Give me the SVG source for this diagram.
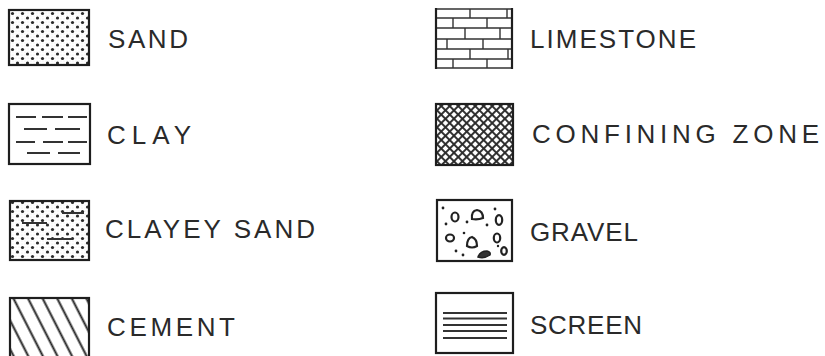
<svg xmlns="http://www.w3.org/2000/svg" width="825" height="356" viewBox="0 0 825 356">
<style>
.box{fill:none;stroke:#1e1e1e;stroke-width:2.2}
.lbl{font-family:"Liberation Sans",Arial,sans-serif;font-size:26px;fill:#2a2a2a}
.dash{stroke:#333;stroke-width:1.8;fill:none}
.peb{fill:none;stroke:#222;stroke-width:2.2}
.dot{fill:#222}
.scr{stroke:#333;stroke-width:2;fill:none}
.brick{stroke:#333;stroke-width:1.4;fill:none}
</style>
<defs>
<pattern id="stip" width="3" height="3" patternUnits="userSpaceOnUse">
<circle cx="1" cy="1" r="0.45" fill="#c8c8c8"/>
</pattern>
<pattern id="sand" width="10" height="9" patternUnits="userSpaceOnUse" x="10" y="11">
<circle cx="2.5" cy="2.5" r="1.6" fill="#2a2a2a"/>
<circle cx="7.5" cy="7" r="1.6" fill="#2a2a2a"/>
</pattern>
<pattern id="cement" width="13" height="13" patternUnits="userSpaceOnUse" patternTransform="rotate(-27)">
<line x1="6.5" y1="-1" x2="6.5" y2="14" stroke="#222" stroke-width="2"/>
</pattern>
<pattern id="hatchA" width="6" height="6" patternUnits="userSpaceOnUse" patternTransform="rotate(45)">
<line x1="3" y1="-1" x2="3" y2="7" stroke="#2a2a2a" stroke-width="1.9"/>
</pattern>
<pattern id="hatchB" width="6" height="6" patternUnits="userSpaceOnUse" patternTransform="rotate(-45)">
<line x1="3" y1="-1" x2="3" y2="7" stroke="#2a2a2a" stroke-width="1.9"/>
</pattern>
</defs>

<g id="sand-item">
<rect x="9" y="10" width="80" height="55" fill="url(#stip)"/>
<rect x="9" y="10" width="80" height="55" fill="url(#sand)"/>
<rect class="box" x="9" y="10" width="80" height="55"/>
<text class="lbl" x="108" y="48" textLength="80" lengthAdjust="spacing">SAND</text>
</g>

<g id="clay-item">
<rect class="box" x="9" y="104" width="81" height="60" fill="#fff"/>
<path class="dash" d="M16 117H36M42 117H63M68 117H87M24 129H47M55 129H80M16 142H35M43 142H63M68 142H87M27 153H50M58 153H80"/>
<text class="lbl" x="107" y="144" textLength="84" lengthAdjust="spacing">CLAY</text>
</g>

<g id="clayey-sand-item">
<rect x="10" y="201" width="79" height="59" fill="url(#stip)"/>
<rect x="10" y="201" width="79" height="59" fill="url(#sand)"/>
<path class="dash" d="M62 213H84M22 223H47M47 239H72"/>
<rect class="box" x="10" y="201" width="79" height="59"/>
<text class="lbl" x="105" y="238" textLength="210" lengthAdjust="spacing">CLAYEY SAND</text>
</g>

<g id="cement-item">
<rect x="10" y="298" width="79" height="60" fill="url(#cement)"/>
<rect class="box" x="10" y="298" width="79" height="60"/>
<text class="lbl" x="107" y="336" textLength="128" lengthAdjust="spacing">CEMENT</text>
</g>

<g id="limestone-item">
<path class="brick" d="M436 9H512M436 18H512M436 28H512M436 39H512M436 49H512M436 59H512M436 68H512"/>
<path class="brick" d="M470 9V18M507 9V18M453 18V28M487 18V28M465 28V39M500 28V39M447 39V49M483 39V49M470 49V59M508 49V59M453 59V68M487 59V68"/>
<path class="box" d="M436 8V69M512 8V69"/>
<text class="lbl" x="530" y="48" textLength="166" lengthAdjust="spacing">LIMESTONE</text>
</g>

<g id="confining-zone-item">
<rect x="436" y="104" width="77" height="61" fill="url(#hatchA)"/>
<rect x="436" y="104" width="77" height="61" fill="url(#hatchB)"/>
<rect class="box" x="436" y="104" width="77" height="61"/>
<text class="lbl" x="532" y="143" textLength="287" lengthAdjust="spacing">CONFINING ZONE</text>
</g>

<g id="gravel-item">
<rect class="box" x="437" y="200" width="75" height="61" fill="#fff"/>
<ellipse class="peb" cx="455" cy="217" rx="3.5" ry="4.5"/>
<path class="peb" d="M472 219 Q471 211 477 210 Q483 211 483 218 Q478 220 472 219Z"/>
<ellipse class="peb" cx="499" cy="220" rx="3.2" ry="4.8"/>
<ellipse class="peb" cx="450" cy="238" rx="4" ry="3.5"/>
<path class="peb" d="M467 246 Q467 238 472 237 Q477 239 477 246 Q472 249 467 246Z"/>
<ellipse class="peb" cx="497" cy="238" rx="3.2" ry="4.5"/>
<ellipse class="peb" cx="504" cy="251" rx="2.8" ry="3.8"/>
<path d="M478 257 Q480 251 487 251 Q491 252 490 255 Q484 259 478 257Z" fill="#333" stroke="#222" stroke-width="1.5"/>
<circle class="dot" cx="443" cy="208" r="1.4"/>
<circle class="dot" cx="446" cy="224" r="1.4"/>
<circle class="dot" cx="467" cy="222" r="1.4"/>
<circle class="dot" cx="495" cy="209" r="1.4"/>
<circle class="dot" cx="487" cy="225" r="1.4"/>
<circle class="dot" cx="464" cy="233" r="1.3"/>
<circle class="dot" cx="456" cy="251" r="1.4"/>
<circle class="dot" cx="463" cy="255" r="1.4"/>
<circle class="dot" cx="498" cy="246" r="1.2"/>
<text class="lbl" x="530" y="241" textLength="108" lengthAdjust="spacing">GRAVEL</text>
</g>

<g id="screen-item">
<rect class="box" x="436" y="293" width="77" height="60" fill="#fff"/>
<path class="scr" d="M443 313H507M443 318.5H507M443 325H507M443 331H507M443 338H507"/>
<text class="lbl" x="530" y="334" textLength="112" lengthAdjust="spacing">SCREEN</text>
</g>
</svg>
